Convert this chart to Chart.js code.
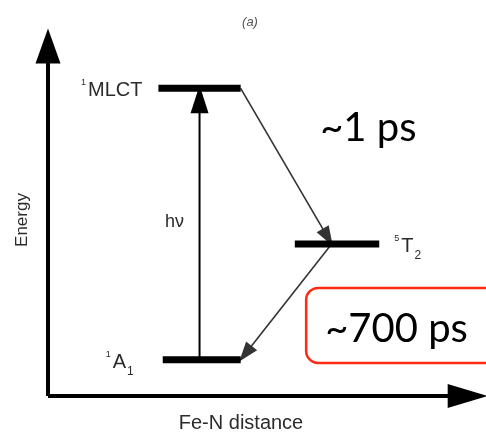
<!DOCTYPE html>
<html>
<head>
<meta charset="utf-8">
<script src="https://cdn.jsdelivr.net/npm/chart.js@4/dist/chart.umd.min.js"></script>
<style>
  html, body { margin: 0; padding: 0; background: #fff; overflow: hidden; }
  canvas { display: block; }
</style>
</head>
<body>
<canvas id="diagram" width="486" height="434"></canvas>
<script>
// energy levels: name with spin multiplicity (sup) and index (sub)
const levelNames = ["MLCT", "T", "A"]
const levelSup = ["1", "5", "1"]
const levelSub = ["", "2", "1"]
const levelEnergy = [8.5, 4.2, 1.0]
const levelStart = [2.55, 5.7, 2.65]   // Fe-N distance where the bar starts
const levelEnd = [4.45, 7.65, 4.45]

// transitions between levels
const transFrom = [2, 0, 1]
const transTo = [0, 1, 2]
const transStartX = [3.5, 4.45, 6.55]
const transEndX = [3.5, 6.55, 4.45]
const transLabels = ["hν", "~1 ps", "~700 ps"]

const axisMax = 10

const datasets = []

levelNames.forEach((name, i) => {
    datasets.push({
        label: name,
        data: [{x: levelStart[i], y: levelEnergy[i]}, {x: levelEnd[i], y: levelEnergy[i]}],
        borderColor: "#000",
        borderWidth: 7,
        borderCapStyle: "butt"
    })
})

transFrom.forEach((from, i) => {
    const pump = i == 0
    datasets.push({
        label: transLabels[i],
        data: [{x: transStartX[i], y: levelEnergy[from]}, {x: transEndX[i], y: levelEnergy[transTo[i]]}],
        borderColor: pump ? "#000" : "#333",
        borderWidth: pump ? 2 : 1.6,
        arrow: pump ? {len: 28, half: 9} : {len: 20, half: 7}
    })
})

// axes with arrow heads
datasets.push({
    label: "Energy",
    data: [{x: 0, y: 0}, {x: 0, y: axisMax}],
    borderColor: "#000",
    borderWidth: 4,
    arrow: {len: 35, half: 12.5}
})
datasets.push({
    label: "Fe-N distance",
    data: [{x: 0, y: 0}, {x: axisMax, y: 0}],
    borderColor: "#000",
    borderWidth: 4,
    arrow: {len: 40, half: 12}
})

const arrowHeads = {
    id: "arrowHeads",
    afterDatasetDraw(chart, args) {
        const ds = chart.data.datasets[args.index]
        if (!ds.arrow) return
        const ctx = chart.ctx
        const pts = args.meta.data
        const a = pts[0], b = pts[1]
        const ang = Math.atan2(b.y - a.y, b.x - a.x)
        const {len, half} = ds.arrow
        // push the tip forward so the line end is hidden under the head
        const push = ds.borderWidth / 2 * len / half
        ctx.save()
        ctx.translate(b.x + Math.cos(ang) * push, b.y + Math.sin(ang) * push)
        ctx.rotate(ang)
        ctx.beginPath()
        ctx.moveTo(0, 0)
        ctx.lineTo(-len, -half)
        ctx.lineTo(-len, half)
        ctx.closePath()
        ctx.fillStyle = ds.borderColor
        ctx.fill()
        ctx.restore()
    }
}

const texts = {
    id: "texts",
    afterDraw(chart) {
        const ctx = chart.ctx
        const xs = chart.scales.x, ys = chart.scales.y
        const area = chart.chartArea
        const gaps = [16, 15, 29]

        ctx.save()
        ctx.fillStyle = "#2b2b2b"
        ctx.textBaseline = "alphabetic"

        // level labels
        levelNames.forEach((name, i) => {
            const y = ys.getPixelForValue(levelEnergy[i])
            ctx.font = "9px 'Liberation Sans'"
            const wSup = ctx.measureText(levelSup[i]).width
            ctx.font = "20px 'Liberation Sans'"
            const wMain = ctx.measureText(name).width
            ctx.font = "12px 'Liberation Sans'"
            const wSub = levelSub[i] ? ctx.measureText(levelSub[i]).width + 1 : 0
            const total = wSup + 2 + wMain + wSub
            const right = levelStart[i] > axisMax / 2
            let x = right ? xs.getPixelForValue(levelEnd[i]) + gaps[i]
                          : xs.getPixelForValue(levelStart[i]) - gaps[i] - total
            ctx.font = "9px 'Liberation Sans'"
            ctx.fillText(levelSup[i], x, y - 3)
            x += wSup + 2
            ctx.font = "20px 'Liberation Sans'"
            ctx.fillText(name, x, y + 8)
            x += wMain + 1
            ctx.font = "12px 'Liberation Sans'"
            if (levelSub[i]) ctx.fillText(levelSub[i], x, y + 15)
        })

        // hv next to the pump arrow
        const hx = xs.getPixelForValue(transStartX[0])
        const hy = (ys.getPixelForValue(levelEnergy[transFrom[0]]) + ys.getPixelForValue(levelEnergy[transTo[0]])) / 2
        ctx.font = "18px 'Liberation Sans'"
        ctx.textAlign = "center"
        ctx.textBaseline = "middle"
        ctx.fillText(transLabels[0], hx - 25, hy - 2)

        // axis titles
        ctx.font = "20px 'Liberation Sans'"
        ctx.fillText("Fe-N distance", 241, area.bottom + 27)
        ctx.save()
        ctx.translate(22, 220)
        ctx.rotate(-Math.PI / 2)
        ctx.font = "17px 'Liberation Sans'"
        ctx.fillText("Energy", 0, 0)
        ctx.restore()
        ctx.font = "italic 13px 'Liberation Sans'"
        ctx.fillStyle = "#555"
        ctx.fillText("(a)", 250, 22)

        // lifetimes of the relaxation steps
        const mid = i => ({
            x: (xs.getPixelForValue(transStartX[i]) + xs.getPixelForValue(transEndX[i])) / 2,
            y: (ys.getPixelForValue(levelEnergy[transFrom[i]]) + ys.getPixelForValue(levelEnergy[transTo[i]])) / 2
        })
        ctx.fillStyle = "#000"
        ctx.textAlign = "left"
        ctx.textBaseline = "alphabetic"
        ctx.font = "40px Lato"
        const m1 = mid(1)
        ctx.fillText(transLabels[1], m1.x + 34, m1.y - 25)

        // callout box, open on the right where it runs off the canvas
        const m2 = mid(2)
        const bx = m2.x + 20, by = m2.y - 14, bh = 75, r = 12
        const far = chart.width + 20
        ctx.strokeStyle = "#ff2a14"
        ctx.lineWidth = 2.5
        ctx.beginPath()
        ctx.moveTo(far, by)
        ctx.lineTo(bx + r, by)
        ctx.arcTo(bx, by, bx, by + r, r)
        ctx.lineTo(bx, by + bh - r)
        ctx.arcTo(bx, by + bh, bx + r, by + bh, r)
        ctx.lineTo(far, by + bh)
        ctx.stroke()
        ctx.fillText(transLabels[2], m2.x + 39, m2.y + 40)
        ctx.restore()
    }
}

new Chart(document.getElementById("diagram"), {
    type: "line",
    data: {datasets: datasets},
    options: {
        responsive: false,
        animation: false,
        devicePixelRatio: 1,
        layout: {padding: {left: 48, top: 34, right: 5, bottom: 38}},
        elements: {point: {radius: 0}, line: {tension: 0}},
        datasets: {line: {clip: false}},
        scales: {
            x: {type: "linear", min: 0, max: axisMax, display: false},
            y: {type: "linear", min: 0, max: axisMax, display: false}
        },
        plugins: {legend: {display: false}, tooltip: {enabled: false}}
    },
    plugins: [arrowHeads, texts]
})
</script>
</body>
</html>
